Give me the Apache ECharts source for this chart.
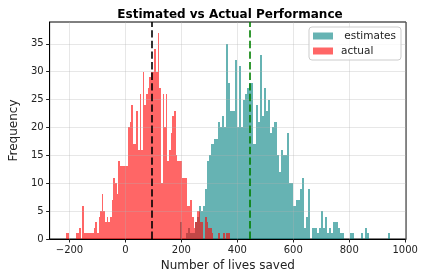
<!DOCTYPE html>
<html>
<head>
<meta charset="utf-8">
<script src="https://cdn.jsdelivr.net/npm/echarts@6/dist/echarts.min.js"></script>
<style>html,body{margin:0;padding:0;background:#fff}#c{width:424px;height:280px}</style>
</head>
<body>
<div id="c"></div>
<script>
// histogram bins: start and width (in "lives saved" units)
const actualBinStart = -213.2;
const actualBinWidth = 5.86;
const estimatesBinStart = 194.6;
const estimatesBinWidth = 7.516;

// counts per bin
const actualCounts = [
  1,1,0,0,0,0,1,1,2,0,
  6,1,1,1,1,1,1,2,3,1,
  4,5,8,5,3,4,3,4,7,11,
  10,8,14,13,13,13,13,13,20,21,
  24,17,17,23,16,26,16,30,24,26,
  27,29,30,30,34,30,37,27,10,26,
  20,26,14,16,19,22,23,15,14,14,
  14,11,11,11,6,6,7,4,2,3,
  5,5,3,3,0,4,3,2,2,1,
  0,0,0,1,0,0,1,0,1,1
];
const estimatesCounts = [
  3,0,0,1,2,1,1,3,4,6,
  5,6,9,14,15,17,18,18,21,20,
  22,20,35,28,23,23,32,20,31,20,
  25,26,27,28,28,17,24,21,33,22,
  27,23,25,19,20,21,15,12,16,15,
  15,19,10,10,6,7,7,9,11,2,
  4,9,0,2,2,1,2,5,2,4,
  1,2,1,3,3,2,1,1,0,0,
  0,1,1,0,0,0,1,0,2,1,
  0,0,0,0,0,0,0,0,0,1
];
const actualMean = 93;
const estimatesMean = 445;

const xTicks = [-200, 0, 200, 400, 600, 800, 1000];
const yTicks = [0, 5, 10, 15, 20, 25, 30, 35];
const seriesNames = [' estimates', 'actual'];

function toBins(start, width, counts) {
  return counts.map((c, i) => [start + width * i, start + width * (i + 1), c]);
}

function renderItem(params, api) {
  const x0 = api.value(0), x1 = api.value(1), c = api.value(2);
  if (!c) return null;
  const p0 = api.coord([x0, c]);
  const p1 = api.coord([x1, 0]);
  const left = Math.round(p0[0]), right = Math.round(p1[0]);
  const top = Math.round(p0[1]), bottom = Math.round(p1[1]);
  return {
    type: 'rect',
    shape: { x: left, y: top, width: right - left, height: bottom - top },
    style: { fill: api.visual('color') }
  };
}

const font = 'DejaVu Sans';
const gridLineStyle = { color: 'rgba(176,176,176,0.3)', width: 1, type: 'solid' };
const chart = echarts.init(document.getElementById('c'), null, { renderer: 'canvas' });
chart.setOption({
  animation: false,
  title: {
    text: 'Estimated vs Actual Performance',
    left: 225, top: 4, textAlign: 'center',
    textStyle: { fontFamily: font, fontSize: 12, fontWeight: 'bold', color: '#000' }
  },
  grid: { left: 44, right: 18, top: 22, bottom: 41, show: true, borderColor: '#000', borderWidth: 1, backgroundColor: 'transparent' },
  legend: {
    data: seriesNames,
    orient: 'vertical', align: 'left',
    right: 23, top: 27,
    icon: 'rect', itemWidth: 20, itemHeight: 7, itemGap: 3,
    padding: [3, 5, 3, 4],
    borderColor: '#ccc', borderWidth: 1, borderRadius: 3,
    backgroundColor: 'rgba(255,255,255,0.8)',
    textStyle: { fontFamily: font, fontSize: 10.5, color: '#222', lineHeight: 12, padding: [0, 0, 0, 3] }
  },
  xAxis: {
    type: 'value', min: -271, max: 1003, z: 4,
    name: 'Number of lives saved', nameLocation: 'middle', nameGap: 20,
    nameTextStyle: { fontFamily: font, fontSize: 12, color: '#222' },
    axisLine: { show: true, onZero: false, lineStyle: { color: '#000', width: 1 } },
    axisTick: { show: true, length: 3.5, customValues: xTicks, lineStyle: { color: '#222' } },
    axisLabel: { customValues: xTicks, margin: 6, fontFamily: font, fontSize: 10, color: '#222',
      formatter: v => String(v).replace('-', '\u2212') },
    splitLine: { show: false }
  },
  yAxis: {
    type: 'value', min: 0, max: 38.9, z: 4,
    name: 'Frequency', nameLocation: 'middle', nameGap: 26,
    nameTextStyle: { fontFamily: font, fontSize: 12, color: '#222' },
    axisLine: { show: true, onZero: false, lineStyle: { color: '#000', width: 1 } },
    axisTick: { show: true, length: 3.5, customValues: yTicks, lineStyle: { color: '#222' } },
    axisLabel: { customValues: yTicks, margin: 6, fontFamily: font, fontSize: 10, color: '#222' },
    splitLine: { show: false }
  },
  series: [
    {
      name: seriesNames[0], type: 'custom', renderItem: renderItem, z: 2,
      itemStyle: { color: 'rgba(0,128,128,0.6)' },
      encode: { x: [0, 1], y: 2 },
      data: toBins(estimatesBinStart, estimatesBinWidth, estimatesCounts)
    },
    {
      name: seriesNames[1], type: 'custom', renderItem: renderItem, z: 2,
      itemStyle: { color: 'rgba(255,0,0,0.6)' },
      encode: { x: [0, 1], y: 2 },
      data: toBins(actualBinStart, actualBinWidth, actualCounts)
    },
    {
      name: 'grid', type: 'line', data: [], silent: true,
      markLine: {
        silent: true, z: 3, symbol: ['none', 'none'], label: { show: false },
        lineStyle: gridLineStyle, emphasis: { disabled: true },
        data: xTicks.map(v => ({ xAxis: v })).concat(yTicks.map(v => ({ yAxis: v })))
      }
    },
    {
      name: 'means', type: 'line', data: [], silent: true,
      markLine: {
        silent: true, z: 5, symbol: ['none', 'none'], label: { show: false }, emphasis: { disabled: true },
        data: [
          { xAxis: estimatesMean, lineStyle: { color: 'rgba(0,128,0,0.8)', width: 2, type: [7.4, 3.2] } },
          { xAxis: actualMean, lineStyle: { color: 'rgba(0,0,0,0.8)', width: 2, type: [7.4, 3.2] } }
        ]
      }
    }
  ]
});
</script>
</body>
</html>
